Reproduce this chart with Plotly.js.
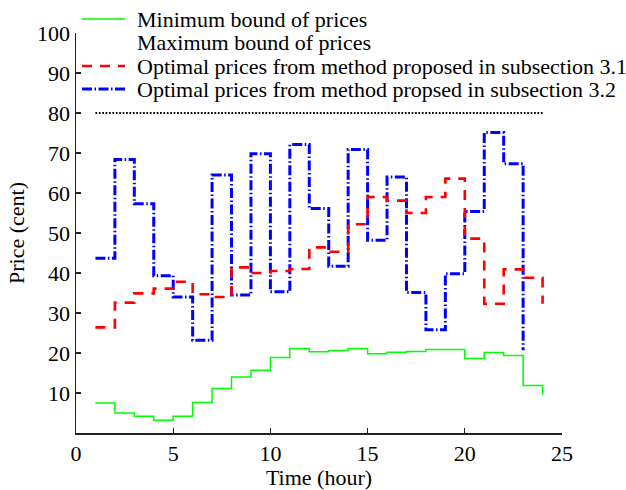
<!DOCTYPE html>
<html>
<head>
<meta charset="utf-8">
<script src="https://cdn.plot.ly/plotly-3.0.1.min.js"></script>
<style>
  html, body { margin: 0; padding: 0; background: #ffffff; }
  #chart { width: 626px; height: 490px; }
</style>
</head>
<body>
<div id="chart"></div>
<script>
// ---- data ----
const hours = [1, 2, 3, 4, 5, 6, 7, 8, 9, 10, 11, 12, 13, 14, 15, 16, 17, 18, 19, 20, 21, 22, 23, 24];
const minBound = [7.5, 5.0, 4.2, 3.2, 4.2, 7.6, 11.1, 14.0, 15.7, 18.9, 21.1, 20.3, 20.6, 21.1, 19.8, 20.2, 20.4, 20.9, 20.9, 18.6, 20.1, 19.4, 11.9, 9.6];
const maxBound = [80, 80, 80, 80, 80, 80, 80, 80, 80, 80, 80, 80, 80, 80, 80, 80, 80, 80, 80, 80, 80, 80, 80, 80];
const price31 = [26.4, 32.6, 34.9, 36.1, 37.8, 34.7, 34.0, 41.4, 40.0, 40.5, 41.0, 46.4, 45.3, 52.2, 59.0, 58.1, 55.0, 59.0, 63.6, 48.6, 32.3, 40.9, 38.8, 32.3];
const hours32 = [1, 2, 3, 4, 5, 6, 7, 8, 9, 10, 11, 12, 13, 14, 15, 16, 17, 18, 19, 20, 21, 22, 23];
const price32 = [43.7, 68.4, 57.3, 39.3, 34.0, 23.2, 64.5, 34.5, 69.8, 35.3, 72.1, 56.1, 41.7, 70.9, 48.2, 64.0, 35.1, 25.8, 39.8, 55.4, 75.1, 67.3, 20.7];
const xTickVals = [0, 5, 10, 15, 20, 25];
const yTickVals = [10, 20, 30, 40, 50, 60, 70, 80, 90, 100];
const seriesNames = [
  'Minimum bound of prices',
  'Maximum bound of prices',
  'Optimal prices from method proposed in subsection 3.1',
  'Optimal prices from method propsed in subsection 3.2'
];

// ---- styles ----
const FONT = 'Liberation Serif, Times New Roman, serif';
const GREEN = '#00ff00', RED = '#ff0000', BLUE = '#0000ff';
const DASH_RED = '10px,8px';
const DASH_BLUE = '10px,2.5px,1.5px,2.5px';
const DASH_DOT = '1.7px,1.7px';

const traces = [
  { x: hours, y: minBound, name: seriesNames[0], mode: 'lines',
    line: { shape: 'hv', color: GREEN, width: 1.5 }, showlegend: false },
  { x: hours, y: maxBound, name: seriesNames[1], mode: 'lines',
    line: { shape: 'hv', color: '#000000', width: 2, dash: DASH_DOT }, showlegend: false },
  { x: hours32, y: price32, name: seriesNames[3], mode: 'lines',
    line: { shape: 'hv', color: BLUE, width: 3, dash: DASH_BLUE }, showlegend: false },
  { x: hours, y: price31, name: seriesNames[2], mode: 'lines',
    line: { shape: 'hv', color: RED, width: 2.6, dash: DASH_RED }, showlegend: false }
];

// plot area: left 76, right 562, top 33, bottom 433
const L = 76, R = 562, T = 33, B = 433;
const px2x = p => (p - L) / (R - L);
const px2y = p => (B - p) / (B - T);

const legendRows = [19, 42.5, 66, 89];
const sampleX0 = 82, sampleX1 = 125, textX = 135;
const sampleStyles = [
  { color: GREEN, width: 1.5, dash: 'solid' },
  null,
  { color: RED, width: 2.6, dash: DASH_RED },
  { color: BLUE, width: 3, dash: DASH_BLUE }
];

const shapes = [];
const annotations = [];
seriesNames.forEach((name, i) => {
  const yp = px2y(legendRows[i]);
  if (sampleStyles[i]) {
    shapes.push({ type: 'line', xref: 'paper', yref: 'paper',
      x0: px2x(sampleX0), x1: px2x(sampleX1), y0: yp, y1: yp,
      line: sampleStyles[i] });
  }
  annotations.push({ xref: 'paper', yref: 'paper', x: px2x(textX), y: yp,
    xanchor: 'left', yanchor: 'middle', showarrow: false, text: name,
    font: { family: FONT, size: 22, color: '#000000' } });
});

const axisCommon = {
  showgrid: false, zeroline: false, showline: true,
  linecolor: '#222222', linewidth: 1.5,
  ticks: 'inside', ticklen: 5, tickwidth: 1.3, tickcolor: '#222222',
  tickfont: { family: FONT, size: 22, color: '#000000' },
  automargin: false
};

const layout = {
  width: 626, height: 490,
  margin: { l: L, r: 626 - R, t: T, b: 490 - B, pad: 0 },
  paper_bgcolor: '#ffffff', plot_bgcolor: '#ffffff',
  showlegend: false,
  xaxis: Object.assign({}, axisCommon, {
    range: [0, 25], tickmode: 'array', tickvals: xTickVals,
    title: { text: 'Time (hour)', font: { family: FONT, size: 22, color: '#000000' }, standoff: 6 }
  }),
  yaxis: Object.assign({}, axisCommon, {
    range: [0, 100], tickmode: 'array', tickvals: yTickVals,
    title: { text: 'Price (cent)', font: { family: FONT, size: 22, color: '#000000' }, standoff: 6 }
  }),
  shapes: shapes,
  annotations: annotations
};

Plotly.newPlot('chart', traces, layout, { displayModeBar: false, staticPlot: true });
</script>
</body>
</html>
